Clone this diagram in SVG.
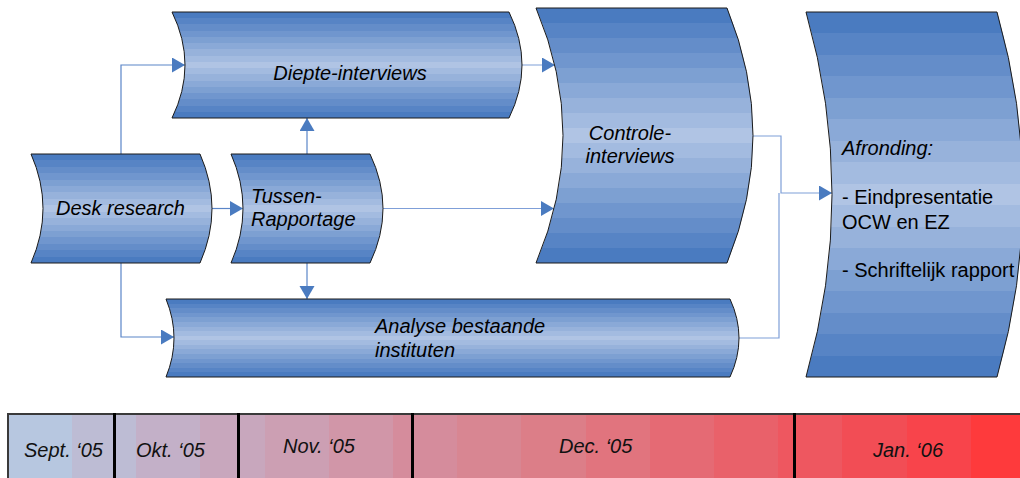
<svg xmlns="http://www.w3.org/2000/svg" width="1020" height="478" viewBox="0 0 1020 478">
<style>
.shape{fill:url(#stripes);stroke:#1a1a1a;stroke-width:1}
.lbl{font-family:"Liberation Sans",Arial,sans-serif;font-size:20px;font-style:italic;fill:#000}
.plain{font-style:normal}
.conn{fill:none;stroke:#5a85c8;stroke-width:1.2}
.conn2{fill:none;stroke:#7f9fd8;stroke-width:1.2}
.tl{font-family:"Liberation Sans",Arial,sans-serif;font-size:20px;font-style:italic;fill:#111}
.div{stroke:#000;stroke-width:3}
</style>
<defs>
<linearGradient id="stripes" x1="0" y1="0" x2="0" y2="1">
<stop offset="0" stop-color="#4a7bc0"/><stop offset="0.0588" stop-color="#4a7bc0"/>
<stop offset="0.0588" stop-color="#5784c5"/><stop offset="0.1176" stop-color="#5784c5"/>
<stop offset="0.1176" stop-color="#648dc9"/><stop offset="0.1765" stop-color="#648dc9"/>
<stop offset="0.1765" stop-color="#7096ce"/><stop offset="0.2353" stop-color="#7096ce"/>
<stop offset="0.2353" stop-color="#7da0d2"/><stop offset="0.2941" stop-color="#7da0d2"/>
<stop offset="0.2941" stop-color="#8aa9d7"/><stop offset="0.3529" stop-color="#8aa9d7"/>
<stop offset="0.3529" stop-color="#97b2db"/><stop offset="0.4118" stop-color="#97b2db"/>
<stop offset="0.4118" stop-color="#a3bbe0"/><stop offset="0.4706" stop-color="#a3bbe0"/>
<stop offset="0.4706" stop-color="#b0c4e4"/><stop offset="0.5294" stop-color="#b0c4e4"/>
<stop offset="0.5294" stop-color="#a3bbe0"/><stop offset="0.5882" stop-color="#a3bbe0"/>
<stop offset="0.5882" stop-color="#97b2db"/><stop offset="0.6471" stop-color="#97b2db"/>
<stop offset="0.6471" stop-color="#8aa9d7"/><stop offset="0.7059" stop-color="#8aa9d7"/>
<stop offset="0.7059" stop-color="#7da0d2"/><stop offset="0.7647" stop-color="#7da0d2"/>
<stop offset="0.7647" stop-color="#7096ce"/><stop offset="0.8235" stop-color="#7096ce"/>
<stop offset="0.8235" stop-color="#648dc9"/><stop offset="0.8824" stop-color="#648dc9"/>
<stop offset="0.8824" stop-color="#5784c5"/><stop offset="0.9412" stop-color="#5784c5"/>
<stop offset="0.9412" stop-color="#4a7bc0"/><stop offset="1" stop-color="#4a7bc0"/>
</linearGradient>
<marker id="arr" markerUnits="userSpaceOnUse" markerWidth="14" markerHeight="16" refX="13" refY="7.5" orient="auto">
<path d="M0,0 L13,7.5 L0,15 Z" fill="#4a7bc0"/>
</marker>
</defs>

<g id="timeline" shape-rendering="crispEdges">
<rect x="8" y="414" width="66" height="70" fill="#b7c7e0"/>
<rect x="72" y="414" width="66" height="70" fill="#bdbcd4"/>
<rect x="136" y="414" width="66" height="70" fill="#c3b0c8"/>
<rect x="200" y="414" width="67" height="70" fill="#c8a7bd"/>
<rect x="265" y="414" width="66" height="70" fill="#cc9fb3"/>
<rect x="329" y="414" width="66" height="70" fill="#d196a8"/>
<rect x="393" y="414" width="66" height="70" fill="#d58c9c"/>
<rect x="457" y="414" width="66" height="70" fill="#d88692"/>
<rect x="521" y="414" width="67" height="70" fill="#dc7e88"/>
<rect x="586" y="414" width="66" height="70" fill="#e1747e"/>
<rect x="650" y="414" width="66" height="70" fill="#e56a74"/>
<rect x="714" y="414" width="66" height="70" fill="#e9616a"/>
<rect x="778" y="414" width="66" height="70" fill="#ee5760"/>
<rect x="842" y="414" width="67" height="70" fill="#f24d55"/>
<rect x="907" y="414" width="66" height="70" fill="#f8444b"/>
<rect x="971" y="414" width="60" height="70" fill="#fe3a3c"/>
<path d="M8,479 L8,414 L1020,414" fill="none" stroke="#3a3a3a" stroke-width="1.2"/>
<line class="div" x1="114" y1="413" x2="114" y2="478"/>
<line class="div" x1="238" y1="413" x2="238" y2="478"/>
<line class="div" x1="412" y1="413" x2="412" y2="478"/>
<line class="div" x1="794" y1="413" x2="794" y2="478"/>
<text class="tl" x="24" y="457">Sept. ‘05</text>
<text class="tl" x="136" y="457">Okt. ‘05</text>
<text class="tl" x="283" y="453">Nov. ‘05</text>
<text class="tl" x="559" y="453">Dec. ‘05</text>
<text class="tl" x="873" y="457">Jan. ‘06</text>
</g>

<g id="connectors">
<path class="conn" d="M121,154 L121,65 L185,65" marker-end="url(#arr)"/>
<path class="conn" d="M121,263 L121,337 L174,337" marker-end="url(#arr)"/>
<path class="conn" d="M212,208.5 L243,208.5" marker-end="url(#arr)"/>
<path class="conn" d="M307,154 L307,118" marker-end="url(#arr)"/>
<path class="conn" d="M307,263 L307,299" marker-end="url(#arr)"/>
<path class="conn2" d="M383,208.5 L554,208.5" marker-end="url(#arr)"/>
<path class="conn2" d="M522,65 L555,65" marker-end="url(#arr)"/>
<path class="conn2" d="M753,136 L781,136 L781,193 L832,193" marker-end="url(#arr)"/>
<path class="conn2" d="M739,338 L779,338 L779,193"/>
</g>

<g id="desk-research">
<path class="shape" d="M31,154 L200,154 Q224,208.5 200,263 L31,263 Q55,208.5 31,154 Z"/>
<text class="lbl" x="56" y="215">Desk research</text>
</g>

<g id="tussen-rapportage">
<path class="shape" d="M231,154 L370,154 Q396,208.5 370,263 L231,263 Q255,208.5 231,154 Z"/>
<text class="lbl" x="251" y="203">Tussen-</text>
<text class="lbl" x="251" y="226">Rapportage</text>
</g>

<g id="diepte-interviews">
<path class="shape" d="M172,12 L509,12 Q535,65 509,118 L172,118 Q198,65 172,12 Z"/>
<text class="lbl" x="350" y="80" text-anchor="middle">Diepte-interviews</text>
</g>

<g id="controle-interviews">
<path class="shape" d="M536,8 L727,8 Q779,135.5 727,263 L536,263 Q590,135.5 536,8 Z"/>
<text class="lbl" x="630" y="140" text-anchor="middle">Controle-</text>
<text class="lbl" x="630" y="163" text-anchor="middle">interviews</text>
</g>

<g id="analyse-bestaande-instituten">
<path class="shape" d="M166,299 L730,299 Q748,338 730,377 L166,377 Q182,338 166,299 Z"/>
<text class="lbl" x="375" y="333">Analyse bestaande</text>
<text class="lbl" x="375" y="357">instituten</text>
</g>

<g id="afronding">
<path class="shape" d="M806,12 L997,12 Q1049,194.5 997,377 L806,377 Q858,194.5 806,12 Z"/>
<text class="lbl" x="842" y="155">Afronding:</text>
<text class="lbl plain" x="842" y="204">- Eindpresentatie</text>
<text class="lbl plain" x="842" y="229">OCW en EZ</text>
<text class="lbl plain" x="842" y="277">- Schriftelijk rapport</text>
</g>
</svg>
